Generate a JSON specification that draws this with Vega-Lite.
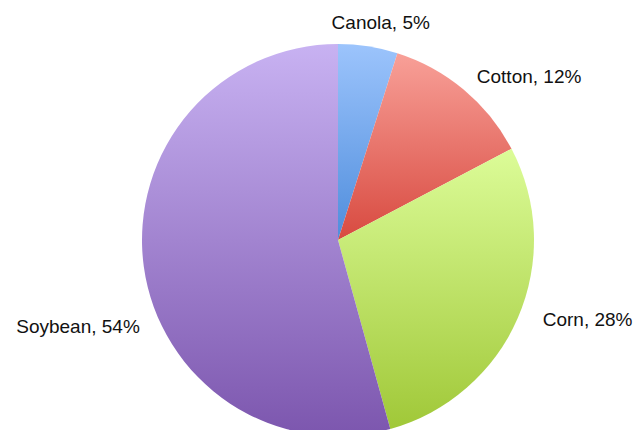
{
  "$schema": "https://vega.github.io/schema/vega-lite/v6.json",
  "width": 600,
  "height": 380,
  "autosize": {"type": "none"},
  "padding": {"left": 38, "top": 50, "right": 0, "bottom": 0},
  "background": "white",
  "config": {"view": {"stroke": null}, "text": {"font": "Liberation Sans", "fontSize": 19, "fill": "#111111"}},
  "data": {"values": [
    {"crop": "Canola", "share": 4.9, "rank": 1, "label": "Canola, 5%"},
    {"crop": "Cotton", "share": 12.4, "rank": 2, "label": "Cotton, 12%"},
    {"crop": "Corn", "share": 28.4, "rank": 3, "label": "Corn, 28%"},
    {"crop": "Soybean", "share": 54.3, "rank": 4, "label": "Soybean, 54%"}
  ]},
  "encoding": {
    "theta": {"field": "share", "type": "quantitative", "stack": true},
    "order": {"field": "rank", "type": "quantitative"}
  },
  "layer": [
    {
      "mark": {"type": "arc", "outerRadius": 196, "fill": {"gradient": "linear", "x1": 0, "y1": 0, "x2": 0, "y2": 1, "stops": [{"offset": 0, "color": "#9cc4fc"}, {"offset": 1, "color": "#4f8ddc"}]}},
      "encoding": {"fillOpacity": {"condition": {"test": "datum.crop === 'Canola'", "value": 1}, "value": 0}}
    },
    {
      "mark": {"type": "arc", "outerRadius": 196, "fill": {"gradient": "linear", "x1": 0, "y1": 0, "x2": 0, "y2": 1, "stops": [{"offset": 0, "color": "#f8a098"}, {"offset": 1, "color": "#d84a40"}]}},
      "encoding": {"fillOpacity": {"condition": {"test": "datum.crop === 'Cotton'", "value": 1}, "value": 0}}
    },
    {
      "mark": {"type": "arc", "outerRadius": 196, "fill": {"gradient": "linear", "x1": 0, "y1": 0, "x2": 0, "y2": 1, "stops": [{"offset": 0, "color": "#dcfc98"}, {"offset": 1, "color": "#a0c838"}]}},
      "encoding": {"fillOpacity": {"condition": {"test": "datum.crop === 'Corn'", "value": 1}, "value": 0}}
    },
    {
      "mark": {"type": "arc", "outerRadius": 196, "fill": {"gradient": "linear", "x1": 0, "y1": 0, "x2": 0, "y2": 1, "stops": [{"offset": 0, "color": "#c8b2f2"}, {"offset": 1, "color": "#7c56ae"}]}},
      "encoding": {"fillOpacity": {"condition": {"test": "datum.crop === 'Soybean'", "value": 1}, "value": 0}}
    },
    {
      "mark": {"type": "text", "radius": 220, "align": "center", "baseline": "middle", "dx": 9},
      "encoding": {"text": {"condition": {"test": "datum.crop === 'Canola'", "field": "label"}, "value": ""}}
    },
    {
      "mark": {"type": "text", "radius": 213, "align": "left", "baseline": "middle", "dx": 2},
      "encoding": {"text": {"condition": {"test": "datum.crop === 'Cotton'", "field": "label"}, "value": ""}}
    },
    {
      "mark": {"type": "text", "radius": 210, "align": "left", "baseline": "middle", "dx": 12, "dy": -3},
      "encoding": {"text": {"condition": {"test": "datum.crop === 'Corn'", "field": "label"}, "value": ""}}
    },
    {
      "mark": {"type": "text", "radius": 200, "align": "right", "baseline": "middle", "dy": 60},
      "encoding": {"text": {"condition": {"test": "datum.crop === 'Soybean'", "field": "label"}, "value": ""}}
    }
  ]
}
